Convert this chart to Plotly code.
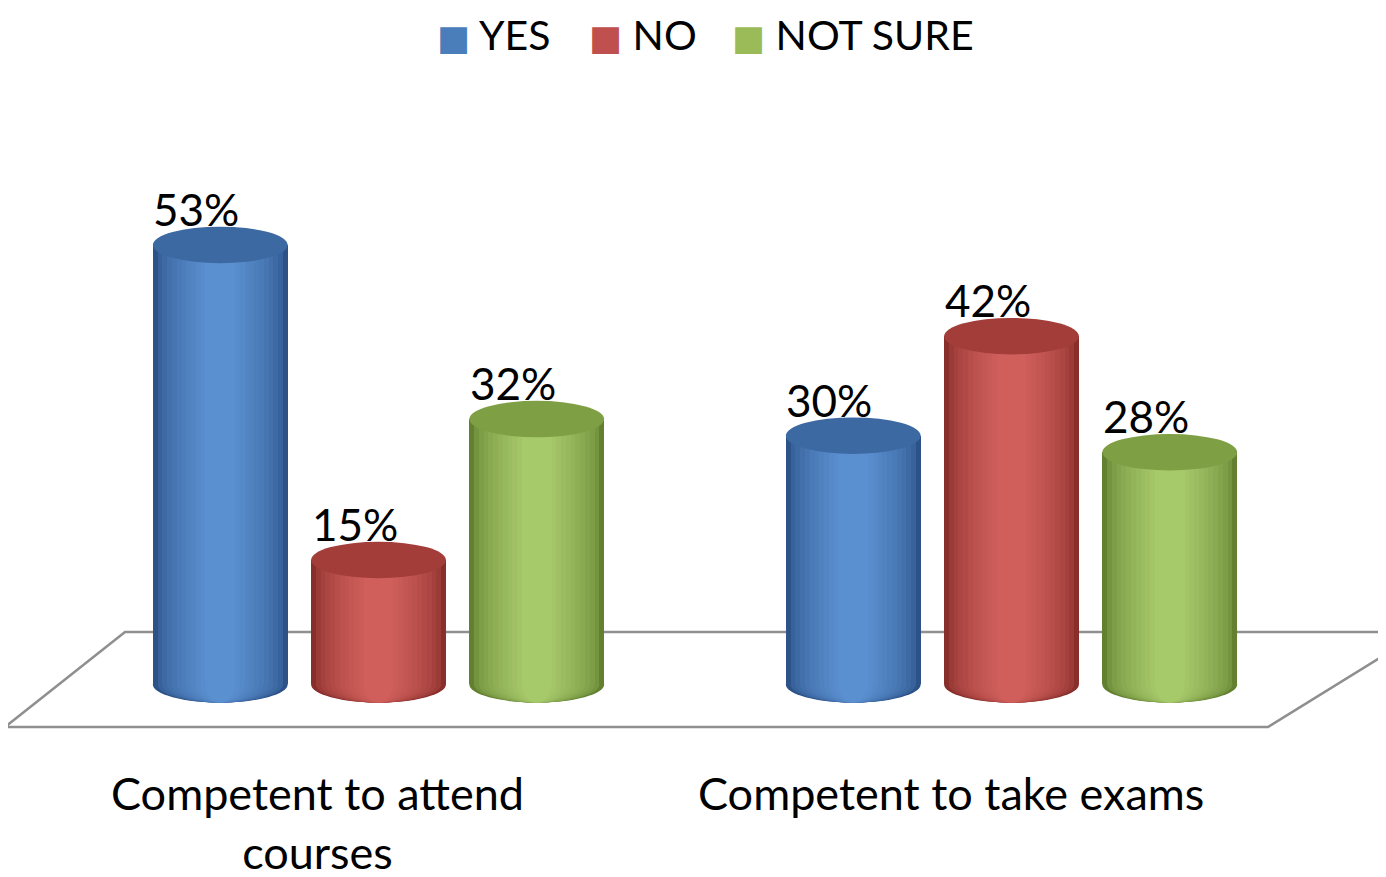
import plotly.graph_objects as go

# ---- data ----
categories = ["Competent to attend<br>courses", "Competent to take exams"]
series_names = ["YES", "NO", "NOT SURE"]
yes_values = [53, 30]
no_values = [15, 42]
notsure_values = [32, 28]
series_values = [yes_values, no_values, notsure_values]

# ---- styles ----
FONT = "Lato"
edge_cols = ["#2c5288", "#882e2b", "#62802f"]
light_cols = ["#5a8fd0", "#d05f5b", "#a6c96a"]
cap_cols = ["#3d69a3", "#a23d3a", "#7f9f45"]
legend_cols = ["#4a7ebb", "#c0504d", "#9bbb59"]
legend_left_px = [427, 579, 722]  # left edge of each legend item (figure px)
N_LAYERS = 12
offsets = [-0.25, 0.0, 0.25]
BAR_W = 0.213
CAP_H = 2.2  # half-height of the elliptic caps, in value units


def mix(c1, c2, t):
    a = [int(c1[i:i + 2], 16) for i in (1, 3, 5)]
    b = [int(c2[i:i + 2], 16) for i in (1, 3, 5)]
    return "#" + "".join(f"{round(x + (y - x) * t):02x}" for x, y in zip(a, b))


layers = []
for l in range(N_LAYERS):
    t = l / (N_LAYERS - 1)
    layers.append((1.0 - 0.78 * t, min(1.0, t ** 0.55)))

fig = go.Figure()
shapes = []
# floor (decoration) -- page is offset by the 8px body margin
shapes.append(dict(
    type="path", xref="paper", yref="paper", layer="below",
    path="M {bl},{b} L 1.02,{b} L {fr},{f} L {fl},{f} Z".format(
        bl=117 / 1386, fr=1260 / 1386, fl=-3 / 1386,
        b=(759 - 632) / 655, f=(759 - 727) / 655),
    line=dict(color="#8f8f8f", width=2.5), fillcolor="white",
))
annotations = []

for s, (name, vals) in enumerate(zip(series_names, series_values)):
    xs = [i + offsets[s] for i in range(len(categories))]
    for frac, t in layers:
        col = mix(edge_cols[s], light_cols[s], t)
        fig.add_trace(go.Bar(
            x=xs, y=vals, width=BAR_W * frac,
            marker=dict(color=col, line=dict(width=0)),
            name=name, legendgroup=name, showlegend=False,
            hovertemplate=name + ": %{y}%<extra></extra>",
        ))
        # bottom of the cylinder, shaded like the body
        for xc in xs:
            shapes.append(dict(type="circle", xref="x", yref="y", layer="below",
                               x0=xc - BAR_W * frac / 2, x1=xc + BAR_W * frac / 2,
                               y0=-CAP_H, y1=CAP_H,
                               fillcolor=col, line=dict(width=0)))
    for xc, v in zip(xs, vals):
        # top cap
        shapes.append(dict(type="circle", xref="x", yref="y", layer="above",
                           x0=xc - BAR_W / 2, x1=xc + BAR_W / 2,
                           y0=v - CAP_H, y1=v + CAP_H,
                           fillcolor=cap_cols[s], line=dict(width=0)))
        annotations.append(dict(x=xc, y=v, xref="x", yref="y",
                                text=f"{v}%", showarrow=False,
                                xshift=-24, yshift=36,
                                font=dict(family=FONT, size=44, color="black")))
    # legend item
    annotations.append(dict(
        x=legend_left_px[s] / 1386, y=1.1466, xref="paper", yref="paper",
        xanchor="left", yanchor="top", showarrow=False,
        text=(f"<span style='color:{legend_cols[s]};font-family:DejaVu Sans;"
              f"font-size:35px'>■</span> {name}"),
        font=dict(family=FONT, size=41, color="black"),
    ))

# category labels (centred a little left of each group)
for i, cat in enumerate(categories):
    annotations.append(dict(x=i, y=-0.008, xref="x", yref="paper",
                            text=cat, showarrow=False, xshift=-61,
                            xanchor="center", yanchor="top", align="center",
                            font=dict(family=FONT, size=45, color="black")))

fig.update_layout(
    width=1386, height=877,
    margin=dict(l=0, r=0, t=96, b=126, autoexpand=False),
    paper_bgcolor="white", plot_bgcolor="rgba(0,0,0,0)",
    barmode="overlay", bargap=0,
    font=dict(family=FONT, size=40, color="black"),
    showlegend=False,
    xaxis=dict(range=[-370.5 / 633, (1386 - 370.5) / 633], showticklabels=False,
               showgrid=False, zeroline=False, showline=False, ticks="",
               fixedrange=True),
    yaxis=dict(range=[-9, 70], visible=False, showgrid=False, zeroline=False,
               fixedrange=True),
    shapes=shapes,
    annotations=annotations,
)

fig.write_html("out.html")
